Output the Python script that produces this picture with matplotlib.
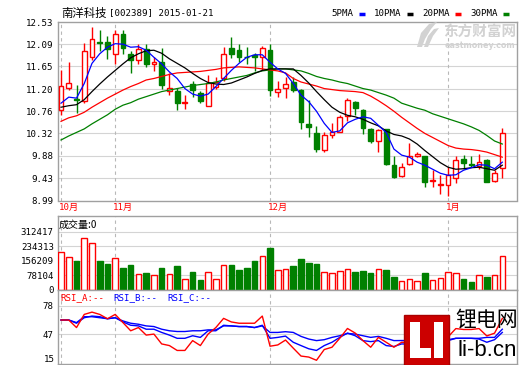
import matplotlib
matplotlib.use('Agg')
import matplotlib.pyplot as plt
from matplotlib.patches import Rectangle, Polygon
import matplotlib.transforms as mtrans

# ---- data (58 trading days) ----
opens = [10.78, 11.23, 11.00, 10.96, 11.83, 12.14, 12.14, 11.90, 12.29, 11.90,
         11.77, 11.99, 11.69, 11.73, 11.17, 11.16, 10.93, 11.31, 11.13, 10.87,
         11.25, 11.41, 12.01, 11.97, 11.84, 11.88, 11.83, 11.97, 11.14, 11.23,
         11.34, 11.18, 10.50, 10.32, 9.99, 10.28, 10.35, 10.66, 10.95, 10.79,
         10.40, 10.17, 10.40, 9.70, 9.47, 9.72, 9.88, 9.87, 9.38, 9.30,
         9.30, 9.44, 9.82, 9.71, 9.67, 9.80, 9.38, 9.64]
highs = [11.57, 11.73, 11.28, 12.11, 12.43, 12.37, 12.25, 12.37, 12.37, 11.96,
         12.09, 12.09, 11.83, 12.01, 11.51, 11.23, 11.08, 11.36, 11.16, 11.47,
         11.44, 12.04, 12.23, 12.09, 12.04, 11.92, 12.06, 12.09, 11.36, 11.43,
         11.43, 11.20, 10.99, 10.47, 10.35, 10.53, 10.69, 11.02, 10.97, 10.80,
         10.43, 10.40, 10.41, 9.88, 9.73, 10.13, 9.96, 9.88, 9.60, 9.50,
         9.66, 9.88, 9.90, 9.88, 9.91, 9.82, 9.60, 10.42]
lows = [10.69, 11.18, 10.73, 10.92, 11.78, 11.95, 11.80, 11.69, 11.90, 11.51,
        11.69, 11.64, 11.56, 11.21, 11.08, 10.78, 10.80, 11.04, 10.92, 10.86,
        11.20, 11.36, 11.82, 11.73, 11.70, 11.55, 11.57, 11.06, 11.04, 11.03,
        11.15, 10.41, 10.24, 9.96, 9.96, 10.23, 10.34, 10.56, 10.69, 10.30,
        10.14, 9.96, 9.70, 9.43, 9.45, 9.70, 9.85, 9.25, 9.25, 9.11,
        9.08, 9.34, 9.62, 9.66, 9.62, 9.36, 9.36, 9.43]
closes = [11.26, 11.32, 10.98, 11.95, 12.19, 12.12, 11.99, 12.29, 12.01, 11.78,
          11.99, 11.69, 11.73, 11.29, 11.23, 10.93, 10.95, 11.19, 10.97, 11.33,
          11.34, 11.90, 11.90, 11.83, 11.83, 11.84, 12.01, 11.19, 11.20, 11.31,
          11.18, 10.54, 10.45, 10.02, 10.28, 10.34, 10.65, 10.99, 10.82, 10.43,
          10.17, 10.38, 9.71, 9.45, 9.65, 9.88, 9.91, 9.35, 9.40, 9.32,
          9.49, 9.80, 9.73, 9.70, 9.75, 9.36, 9.54, 10.32]

ma5 = [10.92, 11.04, 11.02, 11.31, 11.71, 11.90, 12.03, 12.10, 12.09, 12.03,
       12.04, 11.97, 11.83, 11.70, 11.54, 11.41, 11.21, 11.10, 11.06, 11.10,
       11.25, 11.41, 11.57, 11.71, 11.83, 11.88, 11.88, 11.73, 11.60, 11.51,
       11.31, 11.08, 10.95, 10.76, 10.52, 10.34, 10.37, 10.53, 10.60, 10.65,
       10.62, 10.48, 10.34, 10.01, 9.89, 9.85, 9.75, 9.69, 9.61, 9.53,
       9.49, 9.50, 9.59, 9.64, 9.70, 9.69, 9.62, 9.75]
ma10 = [10.84, 10.87, 10.89, 10.99, 11.15, 11.30, 11.44, 11.57, 11.70, 11.82,
        11.90, 11.96, 11.97, 11.91, 11.80, 11.71, 11.62, 11.51, 11.41, 11.33,
        11.30, 11.29, 11.32, 11.38, 11.44, 11.51, 11.57, 11.60, 11.60, 11.60,
        11.60, 11.47, 11.32, 11.15, 10.99, 10.84, 10.74, 10.68, 10.65, 10.60,
        10.53, 10.47, 10.37, 10.30, 10.27, 10.21, 10.11, 9.98, 9.86, 9.74,
        9.65, 9.61, 9.62, 9.64, 9.65, 9.62, 9.59, 9.69]
ma20 = [10.56, 10.63, 10.67, 10.74, 10.84, 10.93, 11.02, 11.10, 11.18, 11.25,
        11.31, 11.38, 11.41, 11.45, 11.49, 11.52, 11.53, 11.54, 11.55, 11.57,
        11.59, 11.62, 11.63, 11.64, 11.63, 11.62, 11.60, 11.58, 11.56, 11.52,
        11.41, 11.34, 11.30, 11.26, 11.21, 11.19, 11.17, 11.16, 11.15, 11.13,
        11.06, 10.97, 10.87, 10.76, 10.64, 10.53, 10.42, 10.32, 10.24, 10.16,
        10.08, 10.03, 10.01, 10.00, 9.98, 9.95, 9.90, 9.85]
ma30 = [10.19, 10.27, 10.34, 10.41, 10.51, 10.60, 10.69, 10.80, 10.88, 10.93,
        11.00, 11.05, 11.10, 11.15, 11.18, 11.21, 11.24, 11.27, 11.29, 11.31,
        11.34, 11.38, 11.41, 11.44, 11.47, 11.52, 11.56, 11.58, 11.60, 11.60,
        11.58, 11.56, 11.51, 11.45, 11.41, 11.38, 11.34, 11.31, 11.26, 11.21,
        11.18, 11.13, 11.08, 11.02, 10.92, 10.87, 10.82, 10.78, 10.71, 10.66,
        10.61, 10.56, 10.51, 10.45, 10.38, 10.28, 10.17, 10.11]

volumes = [202000, 175000, 155000, 278000, 251000, 155000, 139000, 170000, 115000, 133000,
           84000, 91000, 77000, 115000, 84000, 128000, 57000, 95000, 52000, 95000,
           55000, 133000, 133000, 106000, 117000, 155000, 182000, 224000, 106000, 110000,
           128000, 166000, 146000, 139000, 93000, 88000, 99000, 110000, 95000, 100000,
           90000, 110000, 104000, 68000, 46000, 55000, 46000, 90000, 52000, 61000,
           95000, 90000, 57000, 41000, 77000, 68000, 77000, 182000]

rsi_a = [62.3, 62.3, 54.1, 68.4, 70.9, 68.4, 63.7, 68.4, 59.5, 50.6,
         54.1, 45.9, 47.0, 36.3, 34.5, 29.2, 29.2, 39.9, 34.5, 47.0,
         54.1, 64.1, 60.2, 58.8, 58.8, 58.8, 66.6, 33.8, 35.2, 40.5,
         31.7, 23.1, 22.0, 18.5, 30.2, 32.7, 42.4, 53.1, 48.1, 39.9,
         32.7, 43.4, 38.1, 32.7, 38.1, 38.0, 42.0, 33.0, 40.0, 35.0,
         44.0, 53.0, 52.0, 52.0, 53.0, 45.0, 48.0, 64.0]
rsi_b = [62.3, 62.3, 58.8, 64.8, 66.6, 65.9, 63.7, 64.8, 60.2, 56.6,
         55.9, 52.3, 52.3, 48.8, 45.9, 42.4, 42.4, 45.2, 43.4, 50.6,
         50.6, 56.6, 55.9, 55.2, 55.2, 54.1, 56.6, 42.4, 43.4, 44.8,
         38.1, 34.5, 31.0, 29.2, 34.5, 38.1, 43.4, 48.1, 45.2, 39.9,
         38.8, 39.9, 34.5, 33.5, 36.3, 36.0, 38.0, 33.0, 36.0, 35.0,
         39.9, 42.4, 42.4, 42.4, 41.6, 38.1, 40.9, 48.8]
rsi_c = [62.3, 62.3, 59.5, 65.9, 65.9, 64.8, 63.7, 64.8, 61.3, 58.8,
         57.7, 55.9, 55.2, 52.3, 50.6, 49.8, 49.8, 50.6, 50.6, 51.6,
         51.6, 55.9, 55.9, 55.2, 55.2, 54.1, 55.9, 48.8, 48.8, 49.6,
         48.8, 44.5, 41.6, 39.9, 40.9, 43.4, 45.2, 47.7, 47.0, 45.2,
         43.4, 44.5, 42.4, 39.9, 40.0, 40.0, 40.0, 38.0, 39.0, 38.0,
         40.9, 42.4, 42.4, 42.4, 42.4, 43.4, 43.4, 52.3]

month_idx = [0, 7, 27, 50]
month_labels = ['10月', '11月', '12月', '1月']
price_ticks = [8.99, 9.43, 9.88, 10.32, 10.76, 11.20, 11.65, 12.09, 12.53]
vol_ticks = [0, 78104, 156209, 234313, 312417]
rsi_ticks = [47, 78]

# ---- layout helpers (pixel -> figure fraction) ----
W, H = 520, 365
def fx(x):
    return x / W
def fy(y):
    return 1 - y / H

RED = '#ff0000'
GREEN = '#008000'
BORDER = '#a0a0a0'
GRID = '#d4d4d4'
MONO = 'DejaVu Sans Mono'
CJK = ['Noto Sans CJK SC', 'DejaVu Sans']
FS = 6.6

fig = plt.figure(figsize=(5.2, 3.65), dpi=100)
fig.patch.set_facecolor('white')

L, R = 58, 517
ax_p = fig.add_axes([fx(L), fy(200.5), fx(R) - fx(L), fy(22) - fy(200.5)])
ax_v = fig.add_axes([fx(L), fy(289.5), fx(R) - fx(L), fy(216) - fy(289.5)])
ax_r = fig.add_axes([fx(L), fy(363.5), fx(R) - fx(L), fy(289.5) - fy(363.5)])

n = len(closes)
xs = list(range(n))
xlim = (-0.39, 58.9)

for ax in (ax_p, ax_v, ax_r):
    ax.set_xlim(*xlim)
    ax.set_xticks([])
    for s in ax.spines.values():
        s.set_color(BORDER)
        s.set_linewidth(1)
    ax.tick_params(axis='y', length=0, pad=3, labelsize=FS)
    for m in month_idx:
        ax.axvline(m, color='#b8b8b8', lw=0.8, ls=(0, (3, 3)), zorder=0.5)

# ---- price panel ----
ax_p.set_ylim(8.99, 12.53)
ax_p.set_yticks(price_ticks)
ax_p.set_yticklabels(['%.2f' % t for t in price_ticks], family=MONO, fontsize=FS)
for t in price_ticks[1:-1]:
    ax_p.axhline(t, color=GRID, lw=0.8, zorder=0.4)

for i in xs:
    o, h, l, c = opens[i], highs[i], lows[i], closes[i]
    up = c >= o
    col = RED if up else GREEN
    ax_p.vlines(i, l, h, color=col, lw=1, zorder=2)
    ax_p.bar(i, c - o, bottom=o, width=0.62, facecolor='white' if up else GREEN,
             edgecolor=col, linewidth=1, zorder=3)

ax_p.plot(xs, ma30, color=GREEN, lw=0.9, zorder=4)
ax_p.plot(xs, ma20, color=RED, lw=0.9, zorder=4)
ax_p.plot(xs, ma10, color='black', lw=0.9, zorder=4)
ax_p.plot(xs, ma5, color='#0000ff', lw=0.9, zorder=4)

# month labels under the price panel
trans_m = mtrans.blended_transform_factory(ax_p.transData, fig.transFigure)
for m, lab in zip(month_idx, month_labels):
    ax_p.text(m - 0.3, fy(207.5), lab, transform=trans_m, color=RED, fontsize=FS,
              family=[MONO, 'Noto Sans CJK SC'], ha='left', va='center', clip_on=False)

# ---- volume panel ----
ax_v.set_ylim(0, 399300)
ax_v.set_yticks(vol_ticks)
ax_v.set_yticklabels([str(t) for t in vol_ticks], family=MONO, fontsize=FS)
for t in vol_ticks[1:]:
    ax_v.axhline(t, color=GRID, lw=0.8, zorder=0.4)
for i in xs:
    up = closes[i] >= opens[i]
    ax_v.bar(i, volumes[i], width=0.72, facecolor='white' if up else GREEN,
             edgecolor=RED if up else GREEN, linewidth=1, zorder=3)
fig.text(fx(59), fy(225), '成交量:0', family=CJK, fontsize=7.2, ha='left', va='center')

# ---- RSI panel ----
ax_r.set_ylim(15, 95.5)
ax_r.set_yticks(rsi_ticks)
ax_r.set_yticklabels([str(t) for t in rsi_ticks], family=MONO, fontsize=FS)
for t in rsi_ticks:
    ax_r.axhline(t, color=GRID, lw=0.8, zorder=0.4)
ax_r.text(-0.006, 15, '15', transform=mtrans.blended_transform_factory(ax_r.transAxes, ax_r.transData),
          ha='right', va='bottom', family=MONO, fontsize=FS)
ax_r.plot(xs, rsi_c, color='#0000ff', lw=1, zorder=3)
ax_r.plot(xs, rsi_b, color='#0000ff', lw=1, zorder=3)
ax_r.plot(xs, rsi_a, color=RED, lw=1, zorder=4)
fig.text(fx(60), fy(298), 'RSI_A:--', color=RED, family=MONO, fontsize=FS, va='center')
fig.text(fx(113), fy(298), 'RSI_B:--', color='#0000ff', family=MONO, fontsize=FS, va='center')
fig.text(fx(167), fy(298), 'RSI_C:--', color='#0000ff', family=MONO, fontsize=FS, va='center')

# ---- title and legend ----
fig.text(fx(61), fy(13), '南洋科技', family=CJK, fontsize=8.2, va='center')
fig.text(fx(109), fy(13), '[002389] 2015-01-21', family=MONO, fontsize=FS, va='center')
legend_items = [('5PMA', 331, '#0000ff', 359), ('10PMA', 374, 'black', 407),
                ('20PMA', 422, RED, 455), ('30PMA', 470, GREEN, 503)]
for name, tx, col, dx in legend_items:
    fig.text(fx(tx), fy(14), name, family=MONO, fontsize=FS, va='center')
    fig.lines.append(plt.Line2D([fx(dx), fx(dx + 6)], [fy(14), fy(14)], transform=fig.transFigure,
                                color=col, lw=2.5, solid_capstyle='butt'))

# ---- watermarks ----
wm = '#d2d2d2'
for pts in ([(417, 47), (421, 33), (429, 24), (437, 22), (431, 29), (425, 39), (422, 47)],
            [(424, 47), (428, 36), (434, 29), (439, 28), (433, 36), (428, 47)]):
    fig.patches.append(Polygon([(fx(a), fy(b)) for a, b in pts], closed=True,
                               transform=fig.transFigure, facecolor=wm, edgecolor='none'))
fig.text(fx(480), fy(32), '东方财富网', family=CJK, fontsize=10.5, fontweight='bold',
         color=wm, ha='center', va='center')
fig.text(fx(480), fy(45), 'eastmoney.com', family='DejaVu Sans', fontsize=5.8, fontweight='bold',
         color=wm, ha='center', va='center')

fig.patches.append(Rectangle((fx(404), fy(365)), fx(449) - fx(404), fy(315) - fy(365),
                             transform=fig.transFigure, facecolor='#cc0000',
                             edgecolor='#aa0000', zorder=10))
for (x0, y0, x1, y1) in [(410, 322, 420, 358), (410, 348, 431, 358), (434, 322, 443, 358)]:
    fig.patches.append(Rectangle((fx(x0), fy(y1)), fx(x1) - fx(x0), fy(y0) - fy(y1),
                                 transform=fig.transFigure, facecolor='white',
                                 edgecolor='none', zorder=11))
fig.text(fx(487), fy(320), '锂电网', family=CJK, fontsize=15, ha='center', va='center', zorder=12)
fig.text(fx(487), fy(351), 'li-b.cn', family='Liberation Sans', fontsize=16, ha='center',
         va='center', zorder=12)

fig.savefig('out.png', dpi=100)
